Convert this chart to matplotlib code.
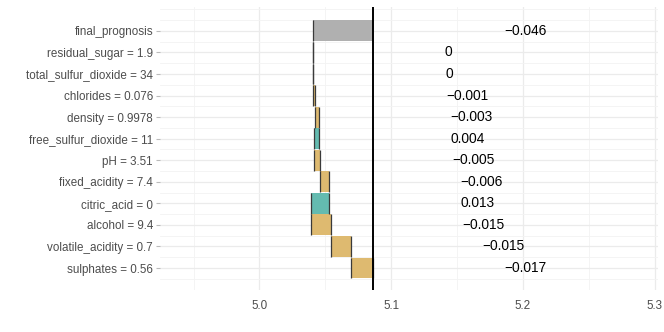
import matplotlib
matplotlib.use("Agg")
import matplotlib.pyplot as plt
from matplotlib.ticker import MultipleLocator

plt.rcParams['font.family'] = ['Liberation Sans', 'DejaVu Sans']

# Data (bottom to top, excluding final_prognosis)
variables = ["sulphates = 0.56", "volatile_acidity = 0.7", "alcohol = 9.4",
             "citric_acid = 0", "fixed_acidity = 7.4", "pH = 3.51",
             "free_sulfur_dioxide = 11", "density = 0.9978", "chlorides = 0.076",
             "total_sulfur_dioxide = 34", "residual_sugar = 1.9"]
contributions = [-0.0169, -0.0151, -0.0149, 0.0133, -0.0062, -0.0052,
                 0.0041, -0.0031, -0.0012, -0.0003, -0.0002]
intercept = 5.0861
final_label = "final_prognosis"
x_ticks = [5.0, 5.1, 5.2, 5.3]

pos_color = "#64BBB0"
neg_color = "#DEBA70"
final_color = "#B0B0B0"
edge_color = "#3A3A3A"

def fmt(v):
    r = round(v, 3)
    if abs(r) < 0.0005:
        return "0"
    return f"{r:.3f}".replace("-", "\u2212")

fig = plt.figure(figsize=(6.64, 3.32), dpi=100)
ax = fig.add_axes([160/664, 42/332, 498/664, 283/332])

h = 0.97
prev = intercept
for i, (name, c) in enumerate(zip(variables, contributions)):
    cur = prev + c
    lo, hi = min(prev, cur), max(prev, cur)
    ax.barh(i, hi - lo, left=lo, height=h, color=pos_color if c > 0 else neg_color,
            linewidth=0, zorder=3)
    ax.vlines([lo, hi], i - h/2, i + h/2, color=edge_color, lw=0.9, zorder=4)
    ax.text(hi + 0.1, i, fmt(c), ha="left", va="center", fontsize=9.9, color="black", zorder=5)
    prev = cur

top = len(variables)
final = prev
total = final - intercept
ax.barh(top, abs(total), left=min(final, intercept), height=h, color=final_color,
        linewidth=0, zorder=3)
ax.vlines([min(final, intercept)], top - h/2, top + h/2, color=edge_color, lw=0.9, zorder=4)
ax.text(max(final, intercept) + 0.1, top, fmt(total), ha="left", va="center",
        fontsize=9.9, color="black", zorder=5)

ax.axvline(intercept, color="black", lw=1.4, zorder=6)

ax.set_xlim(4.9245, 5.3025)
ax.set_ylim(-1.02, top + 1.11)
ax.set_yticks(range(top + 1))
ax.set_yticklabels(variables + [final_label])
ax.set_xticks(x_ticks)
ax.set_xticklabels([f"{t:.1f}" for t in x_ticks])
ax.xaxis.set_minor_locator(MultipleLocator(0.05))
ax.yaxis.set_minor_locator(MultipleLocator(0.5))
ax.grid(which="major", color="#EBEBEB", lw=0.9, zorder=0)
ax.grid(which="minor", color="#F3F3F3", lw=0.6, zorder=0)
ax.set_axisbelow(True)
for s in ax.spines.values():
    s.set_visible(False)
ax.tick_params(axis="y", which="major", length=3, color="#BBBBBB", labelsize=8.4,
               labelcolor="#4D4D4D", pad=2)
ax.tick_params(axis="x", which="major", length=0, labelsize=8.4, labelcolor="#4D4D4D", pad=7)
ax.tick_params(which="minor", length=0)

fig.savefig("out.png", dpi=100)
